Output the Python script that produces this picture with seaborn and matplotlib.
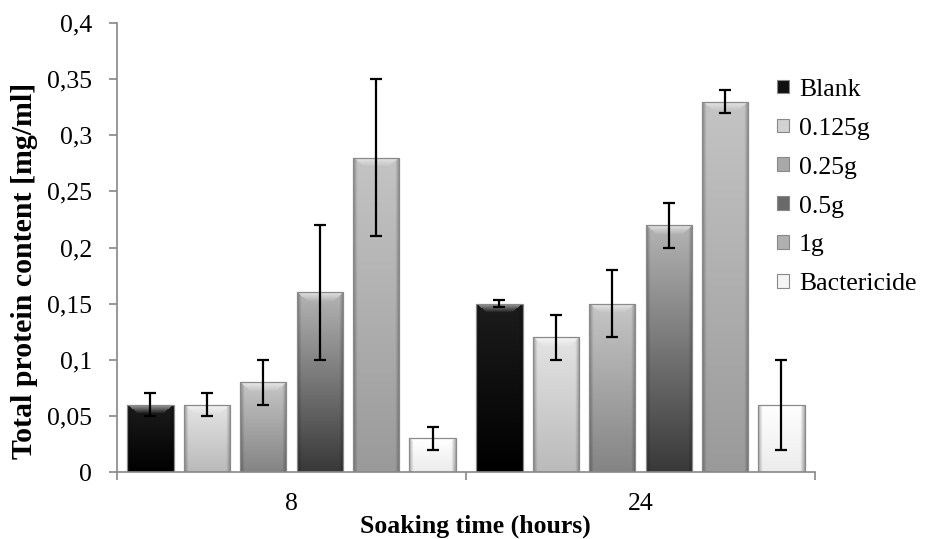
import numpy as np
import pandas as pd
import matplotlib
matplotlib.use("Agg")
import matplotlib.pyplot as plt
import seaborn as sns
from matplotlib.colors import to_rgb
from matplotlib.patches import Patch
from matplotlib.ticker import FuncFormatter, FixedLocator

times = ["8", "24"]
doses = ["Blank", "0.125g", "0.25g", "0.5g", "1g", "Bactericide"]
protein_8h = [0.06, 0.06, 0.08, 0.16, 0.28, 0.03]
protein_24h = [0.15, 0.12, 0.15, 0.22, 0.33, 0.06]
error_8h = [0.01, 0.01, 0.02, 0.06, 0.07, 0.01]
error_24h = [0.003, 0.02, 0.03, 0.02, 0.01, 0.04]

# gradient fill, top and bottom grey for each dose
shade_top = ["#1c1c1c", "#e4e4e4", "#c6c6c6", "#b4b4b4", "#c4c4c4", "#ffffff"]
shade_bottom = ["#000000", "#bababa", "#848484", "#383838", "#9a9a9a", "#ececec"]
legend_col = ["#101010", "#d2d2d2", "#a8a8a8", "#6a6a6a", "#b0b0b0", "#f4f4f4"]

df = pd.DataFrame({
    "time": np.repeat(times, len(doses)),
    "dose": doses * len(times),
    "protein": protein_8h + protein_24h,
})
errors = [error_8h, error_24h]

plt.rcParams["font.family"] = ["Liberation Serif", "DejaVu Serif"]

fig = plt.figure(figsize=(9.25, 5.39), dpi=100)
ax = fig.add_axes([0.1265, 0.1243, 0.7545, 0.8330])

sns.barplot(data=df, x="time", y="protein", hue="dose", order=times,
            hue_order=doses, palette=legend_col, width=0.97, gap=0.18,
            errorbar=None, legend=False, edgecolor="#8a8a8a", linewidth=0.9,
            ax=ax)


def bar_image(top, bottom, rows, cols=48, bevel=9):
    t = np.linspace(0, 1, rows)[:, None, None]
    img = np.array(to_rgb(top)) * (1 - t) + np.array(to_rgb(bottom)) * t
    img = np.repeat(img, cols, axis=1)
    u = np.abs(np.linspace(-1, 1, cols))[None, :, None]
    rim = np.clip((u - 0.82) / 0.18, 0, 1)
    img = img * (1 - 0.3 * rim)
    r = np.arange(rows)[:, None, None]
    light = np.clip(1 - r / bevel, 0, 1) * (u < 1 - r / cols * 2.5)
    img = img + (1 - img) * 0.6 * light
    return np.clip(img, 0, 1)


bar_groups = list(ax.containers)
for i, cont in enumerate(bar_groups):
    xs, hs = [], []
    for bar in cont.patches:
        x0, w, h = bar.get_x(), bar.get_width(), bar.get_height()
        rows = max(int(h * 1122), 3)
        im = ax.imshow(bar_image(shade_top[i], shade_bottom[i], rows),
                       extent=[x0, x0 + w, 0, h], aspect="auto",
                       origin="upper", zorder=0.9, interpolation="bilinear")
        im.set_clip_path(bar)
        bar.set_facecolor("none")
        xs.append(x0 + w / 2)
        hs.append(h)
    ax.errorbar(xs, hs, yerr=[errors[j][i] for j in range(len(times))],
                fmt="none", ecolor="black", elinewidth=1.6, capsize=4.3,
                capthick=1.6, zorder=3)

ax.set_xlim(-0.5, 1.5)
ax.set_ylim(0, 0.4)
ax.set_yticks(np.arange(0, 0.401, 0.05))
ax.yaxis.set_major_formatter(FuncFormatter(
    lambda v, p: f"{v:.2f}".rstrip("0").rstrip(".").replace(".", ",")))
ax.xaxis.set_minor_locator(FixedLocator([-0.5, 0.5, 1.5]))
ax.tick_params(axis="x", which="major", length=0, pad=15, labelsize=18.5)
ax.tick_params(axis="x", which="minor", length=6, color="#888888", width=1.2)
ax.tick_params(axis="y", length=6, color="#888888", width=1.2, pad=12,
               labelsize=18.5)

for side in ["top", "right"]:
    ax.spines[side].set_visible(False)
for side in ["left", "bottom"]:
    ax.spines[side].set_color("#888888")
    ax.spines[side].set_linewidth(1.2)

ax.set_xlabel("Soaking time (hours)", fontsize=18.5, fontweight="bold")
ax.set_ylabel("Total protein content [mg/ml]", fontsize=21.5,
              fontweight="bold")
ax.xaxis.set_label_coords(0.514, -0.094)
ax.yaxis.set_label_coords(-0.113, 0.448)

handles = [Patch(facecolor=c, edgecolor="#888888", linewidth=0.8)
           for c in legend_col]
fig.legend(handles, doses, loc="center left", bbox_to_anchor=(0.840, 0.653),
           frameon=False, fontsize=18.5, handlelength=0.45, handleheight=0.45,
           handletextpad=0.4, labelspacing=0.66, borderaxespad=0,
           borderpad=0)

fig.savefig("out.png", dpi=100)
